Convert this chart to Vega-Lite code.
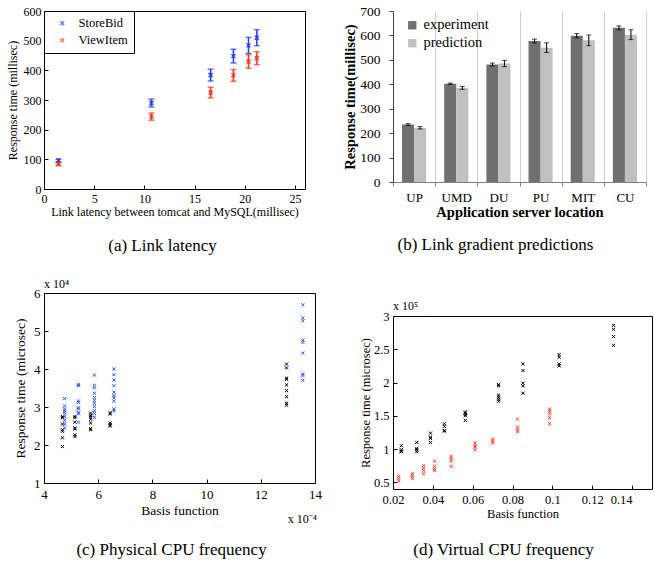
{
  "$schema": "https://vega.github.io/schema/vega-lite/v6.json",
  "padding": {"left": 5, "top": 4, "right": 0, "bottom": 0},
  "config": {
    "font": "Liberation Serif",
    "view": {"stroke": "black", "strokeWidth": 1},
    "axis": {"labelColor": "black", "titleColor": "black", "titleFontWeight": "normal", "grid": false, "tickColor": "black", "domainColor": "black", "labelFont": "Liberation Serif", "titleFont": "Liberation Serif", "labelOverlap": false, "labelFlush": false, "labelBound": false},
    "title": {"font": "Liberation Serif", "fontWeight": "normal", "color": "black"},
    "legend": {"labelFont": "Liberation Serif", "labelColor": "black"}
  },
  "resolve": {"scale": {"color": "independent"}, "legend": {"color": "independent"}},
  "align": "none",
  "spacing": 20,
  "datasets": {
    "a": [
      {"s": "StoreBid", "x": 1.44, "y": 96, "lo": 91, "hi": 101},
      {"s": "StoreBid", "x": 10.7, "y": 290, "lo": 277, "hi": 303},
      {"s": "StoreBid", "x": 16.6, "y": 384, "lo": 364, "hi": 404},
      {"s": "StoreBid", "x": 18.87, "y": 448, "lo": 425, "hi": 471},
      {"s": "StoreBid", "x": 20.37, "y": 484, "lo": 457, "hi": 511},
      {"s": "StoreBid", "x": 21.2, "y": 510, "lo": 483, "hi": 537},
      {"s": "ViewItem", "x": 1.44, "y": 84, "lo": 79, "hi": 89},
      {"s": "ViewItem", "x": 10.7, "y": 244, "lo": 232, "hi": 256},
      {"s": "ViewItem", "x": 16.6, "y": 325, "lo": 307, "hi": 343},
      {"s": "ViewItem", "x": 18.87, "y": 383, "lo": 363, "hi": 403},
      {"s": "ViewItem", "x": 20.37, "y": 430, "lo": 407, "hi": 453},
      {"s": "ViewItem", "x": 21.2, "y": 441, "lo": 419, "hi": 463}
    ],
    "b": [
      {"loc": "UP", "s": "experiment", "v": 235, "lo": 231, "hi": 239},
      {"loc": "UMD", "s": "experiment", "v": 402, "lo": 399, "hi": 405},
      {"loc": "DU", "s": "experiment", "v": 481, "lo": 475, "hi": 487},
      {"loc": "PU", "s": "experiment", "v": 577, "lo": 569, "hi": 585},
      {"loc": "MIT", "s": "experiment", "v": 599, "lo": 590, "hi": 608},
      {"loc": "CU", "s": "experiment", "v": 631, "lo": 623, "hi": 639},
      {"loc": "UP", "s": "prediction", "v": 222, "lo": 217, "hi": 227},
      {"loc": "UMD", "s": "prediction", "v": 385, "lo": 379, "hi": 391},
      {"loc": "DU", "s": "prediction", "v": 485, "lo": 472, "hi": 498},
      {"loc": "PU", "s": "prediction", "v": 550, "lo": 530, "hi": 570},
      {"loc": "MIT", "s": "prediction", "v": 580, "lo": 558, "hi": 602},
      {"loc": "CU", "s": "prediction", "v": 603, "lo": 583, "hi": 623}
    ],
    "c": [
      {"s": "k", "x": 4.68, "y": 1.96}, {"s": "k", "x": 4.68, "y": 2.19}, {"s": "k", "x": 4.68, "y": 2.36}, {"s": "k", "x": 4.68, "y": 2.4}, {"s": "k", "x": 4.68, "y": 2.55}, {"s": "k", "x": 4.68, "y": 2.72}, {"s": "k", "x": 4.68, "y": 2.75},
      {"s": "b", "x": 4.76, "y": 2.45}, {"s": "b", "x": 4.76, "y": 2.55}, {"s": "b", "x": 4.76, "y": 2.65}, {"s": "b", "x": 4.76, "y": 2.74}, {"s": "b", "x": 4.76, "y": 2.8}, {"s": "b", "x": 4.76, "y": 2.86}, {"s": "b", "x": 4.76, "y": 2.9}, {"s": "b", "x": 4.76, "y": 2.95}, {"s": "b", "x": 4.76, "y": 3.03}, {"s": "b", "x": 4.76, "y": 3.22},
      {"s": "k", "x": 5.14, "y": 2.22}, {"s": "k", "x": 5.14, "y": 2.27}, {"s": "k", "x": 5.14, "y": 2.42}, {"s": "k", "x": 5.14, "y": 2.45}, {"s": "k", "x": 5.14, "y": 2.6}, {"s": "k", "x": 5.14, "y": 2.72}, {"s": "k", "x": 5.14, "y": 2.75},
      {"s": "b", "x": 5.27, "y": 2.6}, {"s": "b", "x": 5.27, "y": 2.82}, {"s": "b", "x": 5.27, "y": 2.86}, {"s": "b", "x": 5.27, "y": 2.95}, {"s": "b", "x": 5.27, "y": 2.98}, {"s": "b", "x": 5.27, "y": 3.12}, {"s": "b", "x": 5.27, "y": 3.16}, {"s": "b", "x": 5.27, "y": 3.56}, {"s": "b", "x": 5.27, "y": 3.59},
      {"s": "k", "x": 5.72, "y": 2.4}, {"s": "k", "x": 5.72, "y": 2.43}, {"s": "k", "x": 5.72, "y": 2.58}, {"s": "k", "x": 5.72, "y": 2.68}, {"s": "k", "x": 5.72, "y": 2.74}, {"s": "k", "x": 5.72, "y": 2.78}, {"s": "k", "x": 5.72, "y": 2.84},
      {"s": "b", "x": 5.86, "y": 2.73}, {"s": "b", "x": 5.86, "y": 2.83}, {"s": "b", "x": 5.86, "y": 2.9}, {"s": "b", "x": 5.86, "y": 3.01}, {"s": "b", "x": 5.86, "y": 3.1}, {"s": "b", "x": 5.86, "y": 3.17}, {"s": "b", "x": 5.86, "y": 3.25}, {"s": "b", "x": 5.86, "y": 3.36}, {"s": "b", "x": 5.86, "y": 3.5}, {"s": "b", "x": 5.86, "y": 3.57}, {"s": "b", "x": 5.86, "y": 3.84},
      {"s": "k", "x": 6.44, "y": 2.5}, {"s": "k", "x": 6.44, "y": 2.53}, {"s": "k", "x": 6.44, "y": 2.58}, {"s": "k", "x": 6.44, "y": 2.82}, {"s": "k", "x": 6.44, "y": 2.85},
      {"s": "b", "x": 6.58, "y": 2.9}, {"s": "b", "x": 6.58, "y": 2.95}, {"s": "b", "x": 6.58, "y": 3.15}, {"s": "b", "x": 6.58, "y": 3.24}, {"s": "b", "x": 6.58, "y": 3.3}, {"s": "b", "x": 6.58, "y": 3.39}, {"s": "b", "x": 6.58, "y": 3.56}, {"s": "b", "x": 6.58, "y": 3.71}, {"s": "b", "x": 6.58, "y": 3.85}, {"s": "b", "x": 6.58, "y": 4.0},
      {"s": "k", "x": 12.95, "y": 3.05}, {"s": "k", "x": 12.95, "y": 3.1}, {"s": "k", "x": 12.95, "y": 3.27}, {"s": "k", "x": 12.95, "y": 3.43}, {"s": "k", "x": 12.95, "y": 3.58}, {"s": "k", "x": 12.95, "y": 3.73}, {"s": "k", "x": 12.95, "y": 3.76}, {"s": "k", "x": 12.95, "y": 4.03}, {"s": "k", "x": 12.95, "y": 4.13},
      {"s": "b", "x": 13.55, "y": 3.7}, {"s": "b", "x": 13.55, "y": 3.83}, {"s": "b", "x": 13.55, "y": 3.87}, {"s": "b", "x": 13.55, "y": 4.42}, {"s": "b", "x": 13.55, "y": 4.7}, {"s": "b", "x": 13.55, "y": 4.76}, {"s": "b", "x": 13.55, "y": 5.27}, {"s": "b", "x": 13.55, "y": 5.34}, {"s": "b", "x": 13.55, "y": 5.69}
    ],
    "d": [
      {"s": "k", "x": 0.0242, "y": 0.96}, {"s": "k", "x": 0.0242, "y": 0.97}, {"s": "k", "x": 0.0242, "y": 0.99}, {"s": "k", "x": 0.0242, "y": 1.05},
      {"s": "k", "x": 0.0319, "y": 0.96}, {"s": "k", "x": 0.0319, "y": 0.99}, {"s": "k", "x": 0.0319, "y": 1.01}, {"s": "k", "x": 0.0319, "y": 1.1},
      {"s": "k", "x": 0.0388, "y": 1.1}, {"s": "k", "x": 0.0388, "y": 1.16}, {"s": "k", "x": 0.0388, "y": 1.18}, {"s": "k", "x": 0.0388, "y": 1.24},
      {"s": "k", "x": 0.0458, "y": 1.27}, {"s": "k", "x": 0.0458, "y": 1.28}, {"s": "k", "x": 0.0458, "y": 1.34}, {"s": "k", "x": 0.0458, "y": 1.38},
      {"s": "k", "x": 0.0563, "y": 1.43}, {"s": "k", "x": 0.0563, "y": 1.5}, {"s": "k", "x": 0.0563, "y": 1.52}, {"s": "k", "x": 0.0563, "y": 1.54}, {"s": "k", "x": 0.0563, "y": 1.56},
      {"s": "k", "x": 0.073, "y": 1.72}, {"s": "k", "x": 0.073, "y": 1.75}, {"s": "k", "x": 0.073, "y": 1.78}, {"s": "k", "x": 0.073, "y": 1.81}, {"s": "k", "x": 0.073, "y": 1.95}, {"s": "k", "x": 0.073, "y": 1.97},
      {"s": "k", "x": 0.0852, "y": 1.84}, {"s": "k", "x": 0.0852, "y": 1.95}, {"s": "k", "x": 0.0852, "y": 1.99}, {"s": "k", "x": 0.0852, "y": 2.18}, {"s": "k", "x": 0.0852, "y": 2.28},
      {"s": "k", "x": 0.1034, "y": 2.25}, {"s": "k", "x": 0.1034, "y": 2.28}, {"s": "k", "x": 0.1034, "y": 2.38}, {"s": "k", "x": 0.1034, "y": 2.42},
      {"s": "k", "x": 0.1307, "y": 2.56}, {"s": "k", "x": 0.1307, "y": 2.69}, {"s": "k", "x": 0.1307, "y": 2.8}, {"s": "k", "x": 0.1307, "y": 2.86},
      {"s": "r", "x": 0.0228, "y": 0.52}, {"s": "r", "x": 0.0228, "y": 0.56}, {"s": "r", "x": 0.0228, "y": 0.59},
      {"s": "r", "x": 0.0297, "y": 0.56}, {"s": "r", "x": 0.0297, "y": 0.6}, {"s": "r", "x": 0.0297, "y": 0.63},
      {"s": "r", "x": 0.0353, "y": 0.63}, {"s": "r", "x": 0.0353, "y": 0.68}, {"s": "r", "x": 0.0353, "y": 0.71}, {"s": "r", "x": 0.0353, "y": 0.75},
      {"s": "r", "x": 0.0408, "y": 0.68}, {"s": "r", "x": 0.0408, "y": 0.7}, {"s": "r", "x": 0.0408, "y": 0.74}, {"s": "r", "x": 0.0408, "y": 0.82},
      {"s": "r", "x": 0.0492, "y": 0.74}, {"s": "r", "x": 0.0492, "y": 0.82}, {"s": "r", "x": 0.0492, "y": 0.86}, {"s": "r", "x": 0.0492, "y": 0.89},
      {"s": "r", "x": 0.0612, "y": 0.99}, {"s": "r", "x": 0.0612, "y": 1.03}, {"s": "r", "x": 0.0612, "y": 1.05}, {"s": "r", "x": 0.0612, "y": 1.09},
      {"s": "r", "x": 0.07, "y": 1.09}, {"s": "r", "x": 0.07, "y": 1.12}, {"s": "r", "x": 0.07, "y": 1.15},
      {"s": "r", "x": 0.0825, "y": 1.26}, {"s": "r", "x": 0.0825, "y": 1.29}, {"s": "r", "x": 0.0825, "y": 1.33}, {"s": "r", "x": 0.0825, "y": 1.45},
      {"s": "r", "x": 0.0986, "y": 1.38}, {"s": "r", "x": 0.0986, "y": 1.47}, {"s": "r", "x": 0.0986, "y": 1.53}, {"s": "r", "x": 0.0986, "y": 1.57}, {"s": "r", "x": 0.0986, "y": 1.6}
    ]
  },
  "hconcat": [
    {
      "align": "none",
      "spacing": 22,
      "resolve": {"scale": {"color": "independent"}, "legend": {"color": "independent"}},
      "vconcat": [
        {
          "width": 261, "height": 178,
          "title": {"text": "(a) Link latency", "orient": "bottom", "anchor": "middle", "fontSize": 17, "offset": 21, "dx": -12},
          "data": {"name": "a"},
          "layer": [
            {"mark": {"type": "rule", "strokeWidth": 1.5},
             "encoding": {
               "x": {"field": "x", "type": "quantitative", "scale": {"domain": [0, 25]}, "title": "Link latency between tomcat and MySQL(millisec)", "axis": {"values": [0, 5, 10, 15, 20, 25], "labelOverlap": false, "offset": -4, "tickSize": 4, "domain": false, "labelPadding": 4, "labelFontSize": 12, "titleFontSize": 12, "titlePadding": 2}},
               "y": {"field": "lo", "type": "quantitative", "scale": {"domain": [0, 600]}, "title": "Response time (millisec)", "axis": {"tickCount": 6, "labelOverlap": false, "labelSeparation": -30, "offset": -4, "tickSize": 4, "domain": false, "labelPadding": 3, "labelFontSize": 12, "titleFontSize": 12, "titlePadding": 4}},
               "y2": {"field": "hi"},
               "color": {"field": "s", "type": "nominal", "scale": {"domain": ["StoreBid", "ViewItem"], "range": ["#1f3dff", "#ff3319"]},
                         "legend": {"title": null, "orient": "top-left", "offset": 0, "strokeColor": "black", "fillColor": "white", "padding": 6, "labelFontSize": 12.5, "symbolType": "M-1,-1L1,1M1,-1L-1,1", "symbolSize": 16, "symbolStrokeWidth": 1.3, "rowPadding": 4, "labelOffset": 10, "symbolOffset": 6}}
             }},
            {"mark": {"type": "tick", "orient": "horizontal", "size": 6, "thickness": 1.5},
             "encoding": {
               "x": {"field": "x", "type": "quantitative", "title": "Link latency between tomcat and MySQL(millisec)"},
               "y": {"field": "lo", "type": "quantitative", "title": "Response time (millisec)"},
               "color": {"field": "s", "type": "nominal"}
             }},
            {"mark": {"type": "tick", "orient": "horizontal", "size": 6, "thickness": 1.5},
             "encoding": {
               "x": {"field": "x", "type": "quantitative", "title": "Link latency between tomcat and MySQL(millisec)"},
               "y": {"field": "hi", "type": "quantitative", "title": "Response time (millisec)"},
               "color": {"field": "s", "type": "nominal"}
             }},
            {"mark": {"type": "point", "shape": "M-1,-1L1,1M1,-1L-1,1", "filled": false, "size": 16, "strokeWidth": 1.3, "opacity": 1},
             "encoding": {
               "x": {"field": "x", "type": "quantitative", "title": "Link latency between tomcat and MySQL(millisec)"},
               "y": {"field": "y", "type": "quantitative", "title": "Response time (millisec)"},
               "color": {"field": "s", "type": "nominal"}
             }}
          ]
        },
        {
          "width": 271, "height": 190,
          "title": {"text": "(c) Physical CPU frequency", "orient": "bottom", "anchor": "middle", "fontSize": 17, "offset": 17, "dx": -8},
          "layer": [
            {"data": {"name": "c"},
             "mark": {"type": "point", "shape": "M-1,-1L1,1M1,-1L-1,1", "filled": false, "size": 10, "strokeWidth": 1, "opacity": 1},
             "encoding": {
               "x": {"field": "x", "type": "quantitative", "scale": {"domain": [4, 14]}, "title": "Basis function", "axis": {"values": [4, 6, 8, 10, 12, 14], "labelOverlap": false, "offset": -4, "tickSize": 4, "domain": false, "labelPadding": 5, "labelFontSize": 13, "titleFontSize": 13.5, "titlePadding": 2}},
               "y": {"field": "y", "type": "quantitative", "scale": {"domain": [1, 6]}, "title": "Response time (microsec)", "axis": {"tickCount": 5, "labelOverlap": false, "labelSeparation": -30, "offset": -4, "tickSize": 4, "domain": false, "labelPadding": 4, "labelFontSize": 13, "titleFontSize": 13.5, "titlePadding": 6}},
               "color": {"field": "s", "type": "nominal", "scale": {"domain": ["k", "b"], "range": ["#000000", "#2f55ff"]}, "legend": null}
             }},
            {"data": {"values": [{}]},
             "mark": {"type": "text", "text": "x 10⁴", "align": "left", "baseline": "bottom", "dy": -2, "fontSize": 12},
             "encoding": {"x": {"datum": 4}, "y": {"datum": 6}}},
            {"data": {"values": [{}]},
             "mark": {"type": "text", "text": "x 10⁻⁴", "align": "right", "baseline": "middle", "dy": 36, "dx": 2, "fontSize": 12},
             "encoding": {"x": {"datum": 14}, "y": {"datum": 1}}}
          ]
        }
      ]
    },
    {
      "align": "none",
      "spacing": 46,
      "resolve": {"scale": {"color": "independent"}, "legend": {"color": "independent"}},
      "vconcat": [
        {
          "width": 253, "height": 171,
          "view": {"stroke": null},
          "title": {"text": "(b) Link gradient predictions", "orient": "bottom", "anchor": "middle", "fontSize": 17, "offset": 18, "dx": -24},
          "data": {"name": "b"},
          "encoding": {
            "x": {"field": "loc", "type": "nominal", "sort": ["UP", "UMD", "DU", "PU", "MIT", "CU"], "scale": {"paddingInner": 0, "paddingOuter": 0}, "title": "Application server location",
                  "axis": {"labelAngle": 0, "labelFontSize": 13, "titleFontSize": 14.5, "titleFontWeight": "bold", "tickBand": "extent", "grid": true, "gridColor": "#d0d0d0", "domainColor": "#808080", "tickColor": "#808080", "tickSize": 4, "labelPadding": 5, "titlePadding": 1}},
            "xOffset": {"field": "s", "type": "nominal", "sort": ["experiment", "prediction"], "scale": {"paddingInner": 0, "paddingOuter": 0.75}}
          },
          "layer": [
            {"mark": {"type": "bar"},
             "encoding": {
               "y": {"field": "v", "type": "quantitative", "scale": {"domain": [0, 700]}, "title": "Response time(millisec)", "axis": {"tickCount": 7, "labelOverlap": false, "labelSeparation": -30, "labelFontSize": 13.5, "titleFontSize": 14.5, "titleFontWeight": "bold", "tickSize": 4, "domainColor": "#404040", "tickColor": "#404040", "labelPadding": 9, "titlePadding": 2}},
               "color": {"field": "s", "type": "nominal", "scale": {"domain": ["experiment", "prediction"], "range": ["#707070", "#c0c0c0"]},
                         "legend": {"title": null, "orient": "none", "legendX": 12, "legendY": 7, "symbolType": "square", "symbolSize": 70, "symbolStrokeWidth": 0, "labelFontSize": 14.5, "rowPadding": 3, "padding": 0, "labelOffset": 4}}
             }},
            {"mark": {"type": "rule", "color": "black", "strokeWidth": 1},
             "encoding": {"y": {"field": "lo", "type": "quantitative", "title": "Response time(millisec)"}, "y2": {"field": "hi"}}},
            {"mark": {"type": "tick", "orient": "horizontal", "color": "black", "size": 5, "thickness": 1},
             "encoding": {"y": {"field": "lo", "type": "quantitative", "title": "Response time(millisec)"}}},
            {"mark": {"type": "tick", "orient": "horizontal", "color": "black", "size": 5, "thickness": 1},
             "encoding": {"y": {"field": "hi", "type": "quantitative", "title": "Response time(millisec)"}}}
          ]
        },
        {
          "width": 259, "height": 173,
          "title": {"text": "(d) Virtual CPU frequency", "orient": "bottom", "anchor": "middle", "fontSize": 17, "offset": 22, "dx": -19},
          "layer": [
            {"data": {"name": "d"},
             "mark": {"type": "point", "shape": "M-1,-1L1,1M1,-1L-1,1", "filled": false, "size": 10, "strokeWidth": 1, "opacity": 1},
             "encoding": {
               "x": {"field": "x", "type": "quantitative", "scale": {"domain": [0.02, 0.14]}, "title": "Basis function", "axis": {"values": [0.02, 0.04, 0.06, 0.08, 0.1, 0.12, 0.14], "labelOverlap": false, "format": ".2~f", "labelAlign": {"expr": "datum.value > 0.135 ? 'right' : 'center'"}, "offset": -4, "tickSize": 4, "domain": false, "labelPadding": 4, "labelFontSize": 12.5, "titleFontSize": 12.5, "titlePadding": 2}},
               "y": {"field": "y", "type": "quantitative", "scale": {"domain": [0.5, 3]}, "title": "Response time (microsec)", "axis": {"tickCount": 5, "labelOverlap": false, "labelSeparation": -30, "format": "~g", "offset": -4, "tickSize": 4, "domain": false, "labelPadding": 4, "labelFontSize": 12.5, "titleFontSize": 12.5, "titlePadding": 1}},
               "color": {"field": "s", "type": "nominal", "scale": {"domain": ["k", "r"], "range": ["#000000", "#ff3a2a"]}, "legend": null}
             }},
            {"data": {"values": [{}]},
             "mark": {"type": "text", "text": "x 10⁵", "align": "left", "baseline": "bottom", "dy": -3, "fontSize": 12},
             "encoding": {"x": {"datum": 0.02}, "y": {"datum": 3}}}
          ]
        }
      ]
    }
  ]
}
